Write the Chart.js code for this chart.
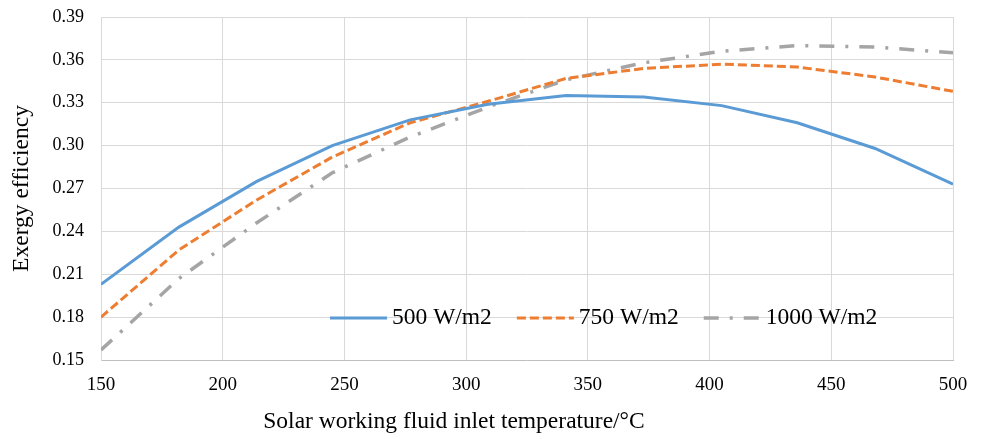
<!DOCTYPE html>
<html>
<head>
<meta charset="utf-8">
<script src="https://cdn.jsdelivr.net/npm/chart.js@4/dist/chart.umd.min.js"></script>
<style>
  html, body { margin: 0; background: #fff; }
  #wrap { width: 982px; height: 439px; }
</style>
</head>
<body>
<div id="wrap"><canvas id="exergyChart"></canvas></div>
<script>
// Inlet temperature (°C) and exergy efficiency per irradiance level
const temps = [150, 182, 214, 245, 277, 309, 341, 373, 405, 436, 468, 500];
const eff500 = [0.203, 0.243, 0.275, 0.300, 0.318, 0.329, 0.335, 0.334, 0.328, 0.316, 0.298, 0.273];
const eff750 = [0.180, 0.227, 0.262, 0.292, 0.316, 0.331, 0.347, 0.354, 0.357, 0.355, 0.348, 0.338];
const eff1000 = [0.157, 0.207, 0.246, 0.281, 0.306, 0.327, 0.346, 0.358, 0.366, 0.370, 0.369, 0.365];
const seriesLabels = ["500 W/m2", "750 W/m2", "1000 W/m2"];
const yTicks = [0.15, 0.18, 0.21, 0.24, 0.27, 0.30, 0.33, 0.36, 0.39];

const serif = "'Liberation Serif', 'Times New Roman', serif";
const toPoints = vals => vals.map((v, i) => ({ x: temps[i], y: v }));

// legend sits inside the plot, plus the axis titles
const overlay = {
  id: "overlay",
  afterDraw(chart) {
    const { ctx, chartArea } = chart;
    ctx.save();
    ctx.font = "23.5px " + serif;
    ctx.fillStyle = "#000";
    ctx.textBaseline = "middle";

    let x = chartArea.left + 229;
    const y = chartArea.top + 301;
    chart.data.datasets.forEach(ds => {
      ctx.beginPath();
      ctx.strokeStyle = ds.borderColor;
      ctx.lineWidth = ds.borderWidth;
      ctx.setLineDash(ds.borderDash || []);
      ctx.moveTo(x, y);
      ctx.lineTo(x + 57, y);
      ctx.stroke();
      ctx.setLineDash([]);
      ctx.textAlign = "left";
      ctx.fillText(ds.label, x + 62, y);
      x += 62 + ctx.measureText(ds.label).width + 25;
    });

    ctx.textAlign = "center";
    ctx.fillText("Solar working fluid inlet temperature/°C", 454, 422);

    ctx.translate(22, (chartArea.top + chartArea.bottom) / 2);
    ctx.rotate(-Math.PI / 2);
    ctx.fillText("Exergy efficiency", 0, 0);
    ctx.restore();
  }
};

new Chart(document.getElementById("exergyChart"), {
  type: "line",
  data: {
    datasets: [
      {
        label: seriesLabels[0],
        data: toPoints(eff500),
        borderColor: "#5b9bd5",
        borderWidth: 3,
        pointRadius: 0,
        tension: 0
      },
      {
        label: seriesLabels[1],
        data: toPoints(eff750),
        borderColor: "#ed7d31",
        borderWidth: 3,
        borderDash: [9, 4],
        pointRadius: 0,
        tension: 0
      },
      {
        label: seriesLabels[2],
        data: toPoints(eff1000),
        borderColor: "#a5a5a5",
        borderWidth: 3.5,
        borderDash: [15, 11, 3, 11],
        pointRadius: 0,
        tension: 0
      }
    ]
  },
  options: {
    responsive: true,
    maintainAspectRatio: false,
    animation: false,
    layout: { padding: { top: 17, right: 29, left: 0, bottom: 0 } },
    plugins: {
      legend: { display: false },
      tooltip: { enabled: false }
    },
    scales: {
      x: {
        type: "linear",
        min: 150,
        max: 500,
        ticks: { stepSize: 50, padding: 14, color: "#000", font: { family: serif, size: 19 } },
        grid: { color: "#d9d9d9", drawTicks: false },
        border: { color: "#bfbfbf" },
        afterFit: scale => { scale.height = 79; }
      },
      y: {
        min: yTicks[0],
        max: yTicks[yTicks.length - 1],
        afterBuildTicks: scale => { scale.ticks = yTicks.map(v => ({ value: v })); },
        ticks: { padding: 17, color: "#000", font: { family: serif, size: 18 }, callback: v => v.toFixed(2) },
        grid: { color: "#d9d9d9", drawTicks: false },
        border: { color: "#d9d9d9" },
        afterFit: scale => {
          scale.width = 101;
          scale.paddingTop = 0;
          scale.paddingBottom = 0;
        }
      }
    }
  },
  plugins: [overlay]
});
</script>
</body>
</html>
